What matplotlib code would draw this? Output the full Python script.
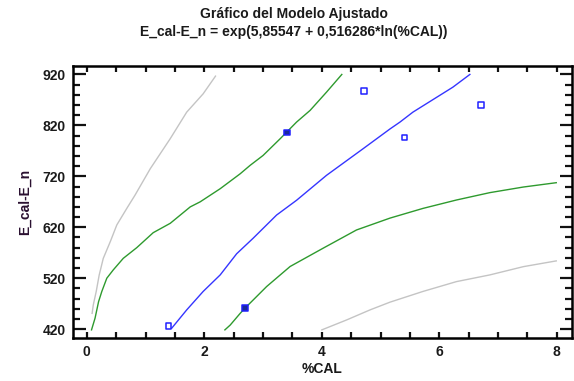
import numpy as np
import matplotlib
matplotlib.use("Agg")
import matplotlib.pyplot as plt
from matplotlib.ticker import MultipleLocator

# observed data
obs_x = [1.39, 2.69, 3.41, 4.72, 5.41, 6.71]
obs_y = [426, 461, 806, 888, 796, 860]

# fitted model line
fit_x = [1.445, 1.70, 1.98, 2.27, 2.55, 2.83, 3.23, 3.57, 4.08, 4.70, 5.16, 5.33, 5.55, 6.23, 6.52]
fit_y = [421.9, 457.8, 494, 526.5, 568, 598.4, 644, 673, 722, 774, 813, 826.5, 846, 895, 920]

# confidence limits (green)
conf_lo_x = [0.08, 0.14, 0.20, 0.255, 0.34, 0.45, 0.62, 0.85, 1.13, 1.42, 1.76, 1.93, 2.27,
             2.61, 2.78, 3.0, 3.29, 3.57, 3.80, 4.08, 4.34]
conf_lo_y = [418.6, 441.6, 474, 494, 520, 536.3, 559, 580, 609.4, 627.8, 660, 670, 695.7,
             725, 741.6, 761, 793.7, 826.5, 849.4, 885.3, 920]
conf_hi_x = [2.35, 2.44, 2.61, 2.69, 3.06, 3.46, 4.02, 4.59, 5.16, 5.72, 6.29, 6.86, 7.43, 7.99]
conf_hi_y = [418.6, 428, 451, 461, 503.6, 543, 578.8, 614.7, 638, 657, 673.5, 688, 699, 707.5]

# prediction limits (gray)
pred_lo_x = [0.09, 0.11, 0.16, 0.21, 0.28, 0.40, 0.51, 0.68, 0.82, 1.08, 1.42, 1.70, 1.98, 2.19]
pred_lo_y = [451, 467.6, 494, 526, 559, 592, 624.5, 657, 683, 735, 794, 846, 882, 916.7]
pred_hi_x = [4.0, 4.42, 4.82, 5.16, 5.72, 6.29, 6.86, 7.43, 7.99]
pred_hi_y = [418.6, 438, 457.8, 473, 494, 513.3, 526.5, 542.7, 554]

filled = [False, True, True, False, False, False]

plt.rcParams['font.family'] = ['Liberation Sans', 'DejaVu Sans']
txt = '#1a1a1a'

fig = plt.figure(figsize=(5.74, 3.81), dpi=100)
ax = fig.add_axes([0.1267, 0.112, 0.869, 0.714])

gray = '#c4c4c4'
green = '#2e9a2e'
blue = '#3535ff'
ax.plot(pred_lo_x, pred_lo_y, color=gray, lw=1.0)
ax.plot(pred_hi_x, pred_hi_y, color=gray, lw=1.0)
ax.plot(conf_lo_x, conf_lo_y, color=green, lw=1.0)
ax.plot(conf_hi_x, conf_hi_y, color=green, lw=1.0)
ax.plot(fit_x, fit_y, color=blue, lw=1.0)
fc = ['#1a2a99' if f else 'white' for f in filled]
ax.scatter(obs_x, obs_y, marker='s', s=16, facecolors=fc, edgecolors='#2020ff',
           linewidths=1.1, zorder=5)

ax.set_xlim(-0.24, 8.25)
ax.set_ylim(402, 936)
ax.set_xticks([0, 2, 4, 6, 8])
ax.set_yticks([420, 520, 620, 720, 820, 920])
ax.xaxis.set_minor_locator(MultipleLocator(0.5))
ax.yaxis.set_minor_locator(MultipleLocator(20))
ax.tick_params(which='both', direction='in', top=True, right=True, width=1.6, colors='#111111')
ax.tick_params(axis='y', which='major', length=9)
ax.tick_params(axis='y', which='minor', length=5)
ax.tick_params(axis='x', which='both', length=4.5)
ax.tick_params(axis='both', which='major', labelsize=10, labelcolor=txt, pad=5)
for lab in ax.get_xticklabels() + ax.get_yticklabels():
    lab.set_fontweight('bold')
for sp in ax.spines.values():
    sp.set_linewidth(1.8)

ax.set_xlabel('%CAL', fontsize=10, fontweight='bold', color=txt, labelpad=2)
ax.set_ylabel('E_cal-E_n', fontsize=10, fontweight='bold', color='#2a1030', labelpad=8)

fig.text(0.512, 0.962, 'Gráfico del Modelo Ajustado', ha='center', va='center',
         fontsize=10, fontweight='bold', color=txt)
fig.text(0.512, 0.915, 'E_cal-E_n = exp(5,85547 + 0,516286*ln(%CAL))', ha='center',
         va='center', fontsize=10, fontweight='bold', color=txt)

fig.savefig('out.png', dpi=100)
